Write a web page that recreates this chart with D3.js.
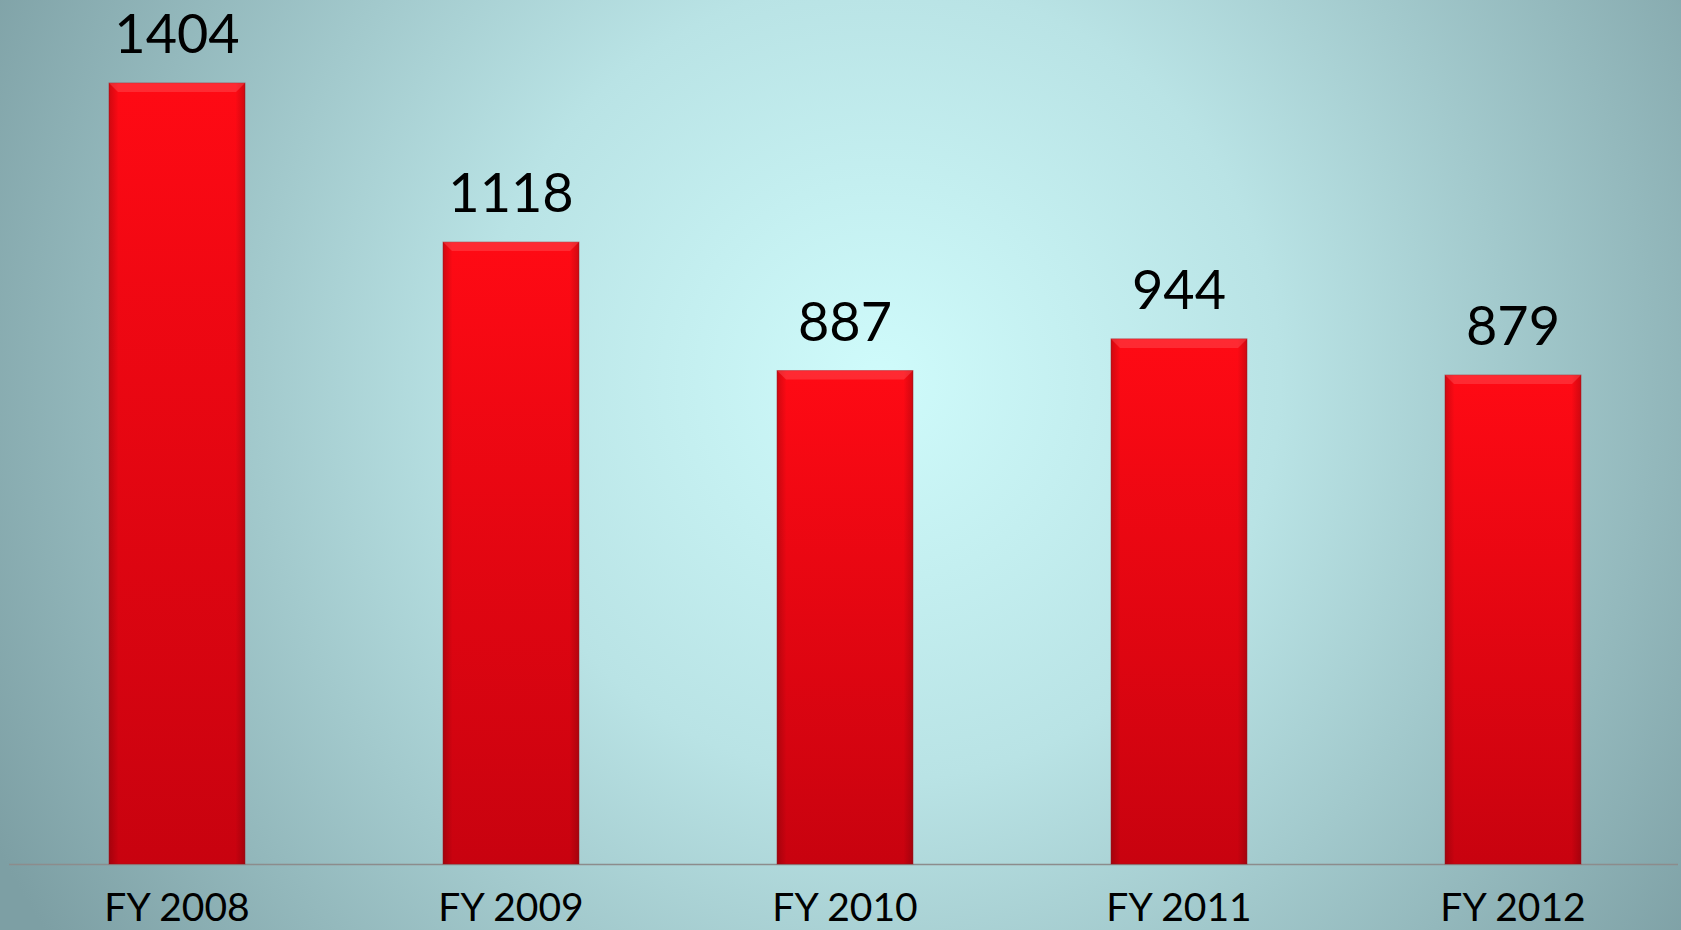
<!DOCTYPE html>
<html>
<head>
<meta charset="utf-8">
<script src="https://cdn.jsdelivr.net/npm/d3@7"></script>
<style>
  html, body { margin: 0; padding: 0; overflow: hidden; }
  svg { display: block; }
</style>
</head>
<body>
<svg id="chart" width="1681" height="930"></svg>
<script>
// chart data
let categories = ['FY 2008', 'FY 2009', 'FY 2010', 'FY 2011', 'FY 2012'];
let values = [1404, 1118, 887, 944, 879];

function make_chart(){
    let WIDTH = 1681
    let HEIGHT = 930
    let BASELINE = 864

    let svg = d3.select('#chart');
    let defs = svg.append('defs');

    // background: radial glow in the middle, teal grey at the edges
    let bg = defs.append('radialGradient')
        .attr('id', 'bg_grad')
        .attr('gradientUnits', 'userSpaceOnUse')
        .attr('cx', 880).attr('cy', 380).attr('r', 1000);
    bg.append('stop').attr('offset', '0%').attr('stop-color', '#cffbfb');
    bg.append('stop').attr('offset', '40%').attr('stop-color', '#b9e3e5');
    bg.append('stop').attr('offset', '100%').attr('stop-color', '#7d9fa4');

    svg.append('rect')
        .attr('width', WIDTH)
        .attr('height', HEIGHT)
        .attr('fill', 'url(#bg_grad)');

    // bar fill, bright red at the top down to dark red
    let bar_grad = defs.append('linearGradient')
        .attr('id', 'bar_grad')
        .attr('x1', 0).attr('y1', 0).attr('x2', 0).attr('y2', 1);
    bar_grad.append('stop').attr('offset', '0%').attr('stop-color', '#ff0a14');
    bar_grad.append('stop').attr('offset', '100%').attr('stop-color', '#c8020f');

    // side shading for the bevel look
    let side_grad = defs.append('linearGradient')
        .attr('id', 'side_grad')
        .attr('x1', 0).attr('y1', 0).attr('x2', 1).attr('y2', 0);
    side_grad.append('stop').attr('offset', '0%').attr('stop-color', '#000').attr('stop-opacity', 0.18);
    side_grad.append('stop').attr('offset', '7%').attr('stop-color', '#000').attr('stop-opacity', 0);
    side_grad.append('stop').attr('offset', '93%').attr('stop-color', '#000').attr('stop-opacity', 0);
    side_grad.append('stop').attr('offset', '100%').attr('stop-color', '#000').attr('stop-opacity', 0.18);

    let xScale = d3.scaleBand()
        .domain(categories)
        .range([10, 1680])
        .paddingInner(0.593)
        .paddingOuter(0.2965);

    let yScale = d3.scaleLinear()
        .domain([0, d3.max(values)])
        .range([BASELINE, 83]);

    let data = categories.map((c, i) => ({cat: c, val: values[i]}));

    // baseline
    svg.append('line')
        .attr('x1', 9).attr('x2', 1678)
        .attr('y1', BASELINE + 0.5).attr('y2', BASELINE + 0.5)
        .attr('stroke', '#8c8c8c')
        .attr('stroke-width', 1.5);

    let bars = svg.append('g').attr('id', 'bars');

    bars.selectAll('rect.bar')
        .data(data)
        .join('rect')
        .attr('class', 'bar')
        .attr('x', d => xScale(d.cat))
        .attr('y', d => yScale(d.val))
        .attr('width', xScale.bandwidth())
        .attr('height', d => yScale(0) - yScale(d.val))
        .attr('fill', 'url(#bar_grad)')
        .attr('stroke', '#a0141c')
        .attr('stroke-opacity', 0.5)
        .attr('stroke-width', 1);

    bars.selectAll('rect.side')
        .data(data)
        .join('rect')
        .attr('class', 'side')
        .attr('x', d => xScale(d.cat))
        .attr('y', d => yScale(d.val))
        .attr('width', xScale.bandwidth())
        .attr('height', d => yScale(0) - yScale(d.val))
        .attr('fill', 'url(#side_grad)');

    // top bevel highlight
    bars.selectAll('path.bevel')
        .data(data)
        .join('path')
        .attr('class', 'bevel')
        .attr('d', d => {
            let x0 = xScale(d.cat), x1 = x0 + xScale.bandwidth(), y0 = yScale(d.val);
            return `M${x0},${y0} L${x1},${y0} L${x1 - 9},${y0 + 9} L${x0 + 9},${y0 + 9} Z`;
        })
        .attr('fill', '#ff5a60')
        .attr('opacity', 0.4);

    // value labels
    svg.append('g').attr('id', 'labels')
        .selectAll('text')
        .data(data)
        .join('text')
        .text(d => d.val)
        .attr('x', d => xScale(d.cat) + xScale.bandwidth() / 2)
        .attr('y', d => yScale(d.val) - 30)
        .attr('text-anchor', 'middle')
        .attr('font-family', 'Lato, "Open Sans", sans-serif')
        .attr('font-size', '54px')
        .attr('fill', '#000');

    // category labels
    svg.append('g').attr('id', 'cats')
        .selectAll('text')
        .data(data)
        .join('text')
        .text(d => d.cat)
        .attr('x', d => xScale(d.cat) + xScale.bandwidth() / 2)
        .attr('y', 921)
        .attr('text-anchor', 'middle')
        .attr('font-family', 'Lato, "Open Sans", sans-serif')
        .attr('font-size', '39px')
        .attr('fill', '#000');
}

make_chart();
</script>
</body>
</html>
